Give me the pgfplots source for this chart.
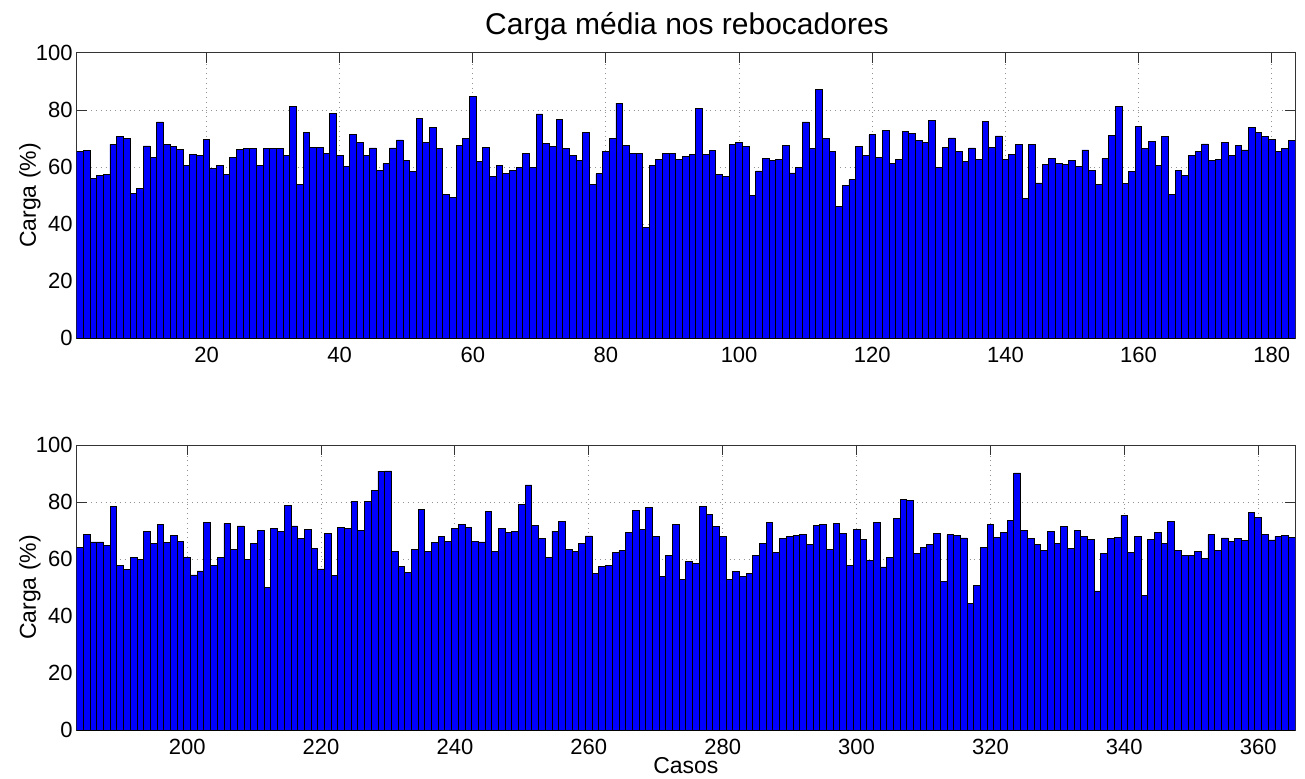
\documentclass[border=0pt]{standalone}
\usepackage{fontspec}
\setmainfont{Liberation Sans}
\usepackage{pgfplots}
\usepackage{pgfplotstable}
\pgfplotsset{compat=1.18}

% Daily mean tug load, first half of the year (cases 1-183)
\pgfplotstableread{
caso carga
1 65.4
2 65.9
3 56.0
4 57.1
5 57.4
6 68.0
7 70.7
8 70.1
9 50.7
10 52.6
11 67.4
12 63.3
13 75.8
14 67.9
15 67.1
16 66.1
17 60.4
18 64.5
19 63.9
20 69.6
21 59.4
22 60.5
23 57.3
24 63.3
25 66.1
26 66.4
27 66.6
28 60.5
29 66.6
30 66.6
31 66.6
32 64.2
33 81.2
34 53.9
35 72.1
36 66.9
37 66.9
38 64.9
39 78.9
40 64.0
41 60.2
42 71.4
43 68.7
44 64.0
45 66.7
46 58.9
47 61.1
48 66.7
49 69.5
50 62.4
51 58.4
52 76.9
53 68.5
54 73.9
55 66.4
56 50.5
57 49.2
58 67.5
59 70.1
60 84.8
61 61.8
62 66.8
63 56.8
64 60.7
65 57.6
66 58.7
67 59.9
68 64.6
69 59.8
70 78.6
71 68.4
72 67.2
73 76.7
74 66.6
75 64.2
76 62.4
77 72.1
78 53.9
79 57.6
80 65.6
81 70.1
82 82.4
83 67.5
84 64.8
85 64.6
86 38.8
87 60.6
88 62.8
89 64.6
90 64.6
91 62.7
92 63.8
93 64.5
94 80.4
95 64.4
96 65.9
97 57.3
98 56.7
99 67.8
100 68.7
101 67.1
102 50.0
103 58.6
104 62.9
105 62.4
106 62.7
107 67.5
108 57.9
109 59.9
110 75.8
111 66.5
112 87.2
113 70.0
114 65.4
115 46.2
116 53.4
117 55.5
118 67.3
119 64.2
120 71.3
121 63.5
122 72.7
123 61.2
124 62.5
125 72.4
126 71.9
127 69.2
128 68.7
129 76.4
130 60.0
131 66.9
132 70.2
133 65.5
134 62.1
135 66.7
136 62.5
137 76.0
138 66.9
139 70.9
140 62.5
141 64.5
142 68.0
143 48.9
144 68.0
145 54.4
146 60.9
147 62.9
148 61.2
149 60.9
150 62.2
151 60.2
152 66.0
153 58.9
154 53.8
155 62.9
156 71.2
157 81.4
158 54.1
159 58.5
160 74.1
161 66.6
162 68.9
163 60.6
164 70.6
165 50.4
166 58.8
167 57.1
168 64.1
169 65.6
170 68.1
171 62.4
172 62.8
173 68.6
174 64.0
175 67.6
176 66.0
177 73.8
178 72.0
179 70.7
180 69.6
181 65.6
182 66.6
183 69.4
}\cargaA

% Second half of the year (cases 184-365)
\pgfplotstableread{
caso carga
184 63.9
185 68.7
186 66.0
187 66.0
188 64.7
189 78.4
190 57.8
191 56.2
192 60.5
193 59.9
194 69.6
195 65.4
196 72.0
197 65.9
198 68.2
199 66.1
200 60.6
201 54.4
202 55.8
203 72.9
204 57.8
205 60.5
206 72.5
207 63.5
208 71.6
209 59.9
210 65.4
211 69.9
212 50.0
213 70.7
214 69.8
215 78.7
216 71.6
217 67.1
218 70.4
219 63.8
220 56.5
221 68.9
222 54.1
223 71.1
224 70.6
225 80.2
226 70.0
227 80.1
228 84.0
229 90.8
230 90.9
231 62.7
232 57.4
233 55.3
234 63.3
235 77.4
236 62.6
237 65.8
238 68.0
239 66.1
240 70.8
241 72.0
242 71.2
243 66.2
244 66.0
245 76.8
246 62.7
247 70.6
248 69.2
249 69.6
250 79.1
251 86.0
252 71.8
253 67.1
254 60.5
255 69.8
256 73.1
257 63.5
258 62.7
259 65.5
260 68.1
261 54.8
262 57.5
263 57.8
264 62.4
265 62.9
266 69.4
267 77.1
268 70.4
269 78.2
270 68.0
271 53.8
272 61.1
273 72.1
274 52.9
275 59.2
276 58.4
277 78.5
278 75.6
279 71.3
280 68.0
281 52.9
282 55.6
283 53.9
284 54.9
285 61.3
286 65.4
287 72.8
288 62.2
289 67.2
290 67.9
291 68.2
292 68.7
293 65.2
294 71.8
295 72.1
296 63.5
297 72.6
298 68.9
299 57.8
300 70.4
301 66.8
302 59.5
303 72.8
304 57.2
305 60.7
306 74.1
307 80.8
308 80.5
309 61.8
310 64.0
311 65.2
312 69.1
313 52.1
314 68.5
315 68.4
316 67.4
317 44.4
318 50.8
319 64.0
320 72.0
321 67.6
322 69.4
323 73.4
324 90.2
325 69.9
326 67.1
327 65.1
328 63.1
329 69.8
330 65.6
331 71.4
332 63.8
333 70.0
334 68.0
335 66.9
336 48.8
337 61.8
338 67.3
339 67.6
340 75.3
341 62.2
342 67.9
343 47.3
344 66.9
345 69.3
346 65.6
347 73.1
348 63.1
349 61.2
350 61.2
351 62.7
352 60.2
353 68.5
354 63.1
355 67.4
356 66.2
357 67.1
358 66.5
359 76.2
360 74.5
361 68.7
362 66.7
363 67.9
364 68.4
365 67.6
}\cargaB

\pgfplotsset{
  painel/.style={
    scale only axis,
    width=609.15pt, height=142.5pt,
    ymin=0, ymax=100, ytick={0,20,...,100},
    grid=major,
    major grid style={dotted, gray!85, line width=0.5pt},
    tick pos=both, tick align=inside, major tick length=5pt,
    axis line style={black!80, line width=0.5pt},
    every tick/.style={black!80, line width=0.5pt},
    tick label style={font=\fontsize{11}{13}\selectfont},
    /pgf/number format/assume math mode=true,
    ylabel={Carga (\%)},
    ylabel style={font=\fontsize{11.5}{13}\selectfont,
      at={(axis description cs:-0.0383,0.5)}, anchor=center},
    xticklabel style={yshift=-1pt},
    yticklabel style={xshift=1.5pt},
  },
  barras/.style={ybar, bar width=1, fill=blue, draw=black, line width=0.4pt},
}

\begin{document}
\begin{tikzpicture}
\useasboundingbox (0,0) rectangle (652.5pt,389pt);

\node[font=\fontsize{15}{18}\selectfont] at (343.5pt,375.5pt) {Carga média nos rebocadores};

\begin{axis}[painel, at={(38.35pt,220pt)}, anchor=south west,
  xmin=0.5, xmax=183.5, xtick={20,40,...,180}]
  \addplot[barras] table[x=caso, y=carga] {\cargaA};
\end{axis}

\begin{axis}[painel, at={(38.35pt,24pt)}, anchor=south west,
  xmin=183.5, xmax=365.5, xtick={200,220,...,360},
  xlabel={Casos},
  xlabel style={font=\fontsize{11.5}{13}\selectfont, at={(axis description cs:0.5,0)}, anchor=base, yshift=-21.5pt}]
  \addplot[barras] table[x=caso, y=carga] {\cargaB};
\end{axis}
\end{tikzpicture}
\end{document}
